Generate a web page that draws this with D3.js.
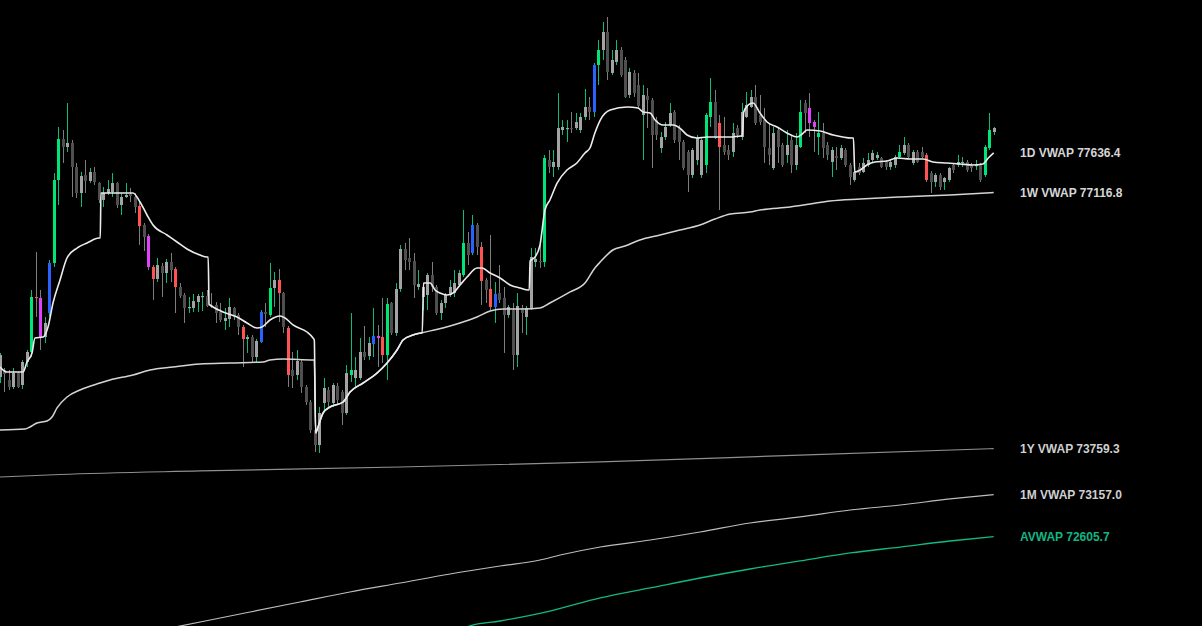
<!DOCTYPE html>
<html><head><meta charset="utf-8">
<script src="https://cdn.jsdelivr.net/npm/d3@7"></script>
<style>html,body{margin:0;padding:0;background:#000;overflow:hidden}</style>
</head><body>
<svg id="chart" width="1202" height="626"></svg>
<script>
// ---- Candle data (hourly OHLC) ----
const candleOpen = [74698,74790,74659,74567,74750,74593,74895,75026,75747,75734,75222,75537,76193,77281,77818,77713,77766,77451,77110,77346,77268,77386,77241,77019,77110,77123,77241,76953,77058,77097,77058,76940,76691,76546,76140,75983,76153,76061,76206,76114,75878,75773,75603,75603,75681,75747,75760,75642,75642,75550,75432,75458,75603,75511,75354,75196,75222,74960,75157,75550,75511,75865,75970,75799,75341,74790,74724,74895,74567,74370,74003,73806,74357,74528,74357,74580,74501,74226,74724,74685,74685,75026,74973,75131,75236,75222,74986,75668,75275,75852,76376,76258,76219,75878,75747,75773,76035,75878,75537,75668,75773,75799,75904,76035,76455,76324,76691,76403,75970,75852,75616,75799,75734,75511,75576,74986,75603,75485,75603,76206,76219,76206,77543,77451,77451,77936,77949,77962,77962,77936,78107,78238,78172,78788,78985,79221,78684,78828,78985,78854,78395,78684,78526,78133,78382,78330,78067,77700,77844,78002,78172,77962,77779,77648,77346,77543,77346,77477,78107,78303,78028,77740,77674,77648,77962,77844,78107,78238,78369,78133,78067,77700,77438,77936,77740,77609,77805,77477,77713,78290,78225,78041,77844,77897,77740,77517,77595,77569,77674,77477,77281,77451,77386,77477,77543,77569,77569,77517,77451,77477,77582,77635,77740,77504,77648,77648,77609,77372,77254,77346,77254,77281,77477,77477,77504,77517,77477,77464,77477,77346,77700,77910];
const candleHigh = [75013,74816,74790,74816,74763,74921,75052,75839,76337,75839,75485,76232,77372,77976,77936,78290,77805,77504,77386,77543,77438,77451,77254,77189,77281,77372,77254,77110,77241,77176,77110,76992,76717,76573,76166,76258,76193,76245,76324,76140,75930,75799,75747,75786,75786,75813,75839,75799,75681,75668,75603,75734,75616,75537,75380,75249,75249,75196,75576,75668,76193,76075,76114,75813,75367,75026,75052,74921,74593,74397,74029,74305,74685,74567,74619,74619,74528,74855,75537,74960,75209,75367,75222,75603,75380,75734,75734,75681,75930,76429,76455,76520,76324,76101,75930,76061,76206,75904,75708,75799,75970,76101,76101,76887,76599,76822,76717,76468,75996,76560,75943,76166,75878,75642,75668,75799,75642,75629,76389,76389,76429,77609,77674,77674,78421,78067,78067,78172,78159,78159,78474,78369,78815,79116,79352,79418,78985,79116,79024,78893,78749,78723,78684,78526,78487,78356,78107,77910,78041,78290,78198,78002,77805,77674,77700,77871,77831,78159,78618,78461,78133,78107,77740,78028,78002,78290,78434,78461,78526,78395,78225,78028,77976,77976,77766,77936,77871,77897,78330,78330,78421,78067,78172,78028,77779,77713,77713,77740,77700,77504,77438,77504,77569,77635,77674,77648,77582,77543,77543,77609,77740,77844,77766,77674,77674,77713,77635,77399,77372,77372,77320,77451,77504,77609,77582,77543,77504,77543,77504,77740,78159,77976];
const candleLow = [74619,74501,74528,74541,74554,74541,74829,74960,75485,75052,75144,75485,76140,76953,77504,77648,77058,77045,76927,77110,77241,77215,76979,76927,77084,77058,76913,76822,77045,76992,76848,76429,76350,76101,75708,75943,75747,75930,75943,75537,75734,75406,75537,75550,75550,75563,75616,75603,75406,75419,75314,75354,75445,75249,74829,75013,74882,74895,75144,75354,75485,75616,75419,75275,74567,74554,74659,74488,74331,73964,73715,73702,74239,74305,74305,74331,74069,74200,74632,74567,74659,74921,74921,74960,74829,74882,74659,75249,75236,75813,76101,76101,75734,75839,75576,75576,75813,75511,75445,75603,75747,75747,75878,76009,76166,76297,76297,75642,75668,75576,75406,75668,75013,75472,74790,74829,75275,75249,75576,76140,76127,76140,77372,77320,77412,77871,77779,77897,77936,77897,78067,78067,78107,78526,78854,78592,78657,78788,78631,78356,78356,78369,78225,77543,77962,77438,77805,77635,77805,77976,77766,77543,77412,77123,77307,77477,77307,77372,77976,77818,76887,77609,77543,77582,77831,77805,78093,78225,78002,78002,77504,77477,77412,77504,77451,77504,77372,77412,77700,77897,77844,77648,77609,77569,77543,77320,77412,77543,77451,77215,77254,77346,77372,77451,77517,77543,77438,77412,77412,77438,77569,77609,77569,77477,77504,77569,77254,77110,77189,77150,77150,77254,77372,77451,77451,77386,77386,77412,77254,77320,77674,77871];
const candleClose = [74986,74737,74567,74750,74567,74895,75026,75747,75734,75222,75406,76193,77281,77818,77713,77766,77451,77110,77333,77268,77386,77254,77019,77110,77163,77241,76953,77058,77084,77071,76927,76678,76533,76140,75983,76166,76061,76206,76101,75878,75760,75603,75616,75694,75760,75760,75629,75616,75537,75445,75472,75616,75485,75354,75196,75222,74960,75170,75550,75524,75865,75970,75799,75354,74724,74711,74908,74567,74370,74003,73806,74226,74554,74370,74593,74397,74226,74750,74790,74790,75026,74960,75144,75236,75209,74986,75655,75275,75852,76376,76232,76206,75904,75917,75878,76035,75878,75537,75668,75773,75878,75930,76061,76455,76297,76691,76403,75957,75839,75616,75786,75708,75511,75616,74986,75629,75537,75603,76271,76245,76206,77569,77451,77517,77962,77976,77962,77949,78041,78107,78238,78172,78788,78985,79221,78697,78854,78985,78657,78369,78697,78421,78251,78395,78330,77871,77871,77844,77976,78159,77805,77779,77438,77346,77674,77831,77805,78133,78303,77831,77713,77648,77609,77897,77871,78172,78264,78369,78028,78041,77713,77609,77897,77713,77477,77740,77477,77740,78172,78159,78028,77976,77897,77700,77609,77674,77569,77700,77477,77320,77386,77372,77504,77543,77635,77609,77451,77451,77517,77582,77648,77740,77582,77648,77517,77582,77281,77254,77346,77189,77307,77438,77412,77517,77517,77412,77438,77477,77281,77713,77936,77962];
// high-volume highlighted candles
const greenIdx = [7,12,13,60,78,86,103,121,133,157,158,178,182,200,219,220];
const blueIdx = [11,58,83,105,110,132];
const magentaIdx = [9,33,84,180,181];
const redIdx = [8,31,34,39,54,62,64,85,107,109,160,206];

// ---- VWAP lines (bar index, price) ----
const vwap1dIdx = [0,1.56,5.12,6.0,7.12,7.78,9.56,10.68,11.79,13.35,14.9,17.13,19.35,22.02,22.3,22.45,25.58,29.58,31.14,32.7,34.03,37.14,39.37,41.59,44.48,46.04,46.3,46.5,47.38,49.6,52.71,54.94,57.16,58.27,60.05,62.28,63.39,65.17,68.28,69.62,69.9,70.2,70.73,71.84,73.4,76.29,77.85,80.74,83.85,86.08,88.3,89.64,91.86,93.64,93.9,94.2,95.64,96.75,97.86,99.42,100.76,102.31,103.87,106.1,107.21,108.99,111.21,113.43,115.66,117.44,117.7,117.9,119.0,120.1,121.2,122.3,123.9,126.1,128.3,130.1,131.2,132.3,133.5,135.7,139.5,141.9,143.0,144.6,145.7,147.5,149.7,151.2,152.8,155.0,157.3,159.5,162.4,164.8,165.1,165.4,166.4,167.5,169.0,170.6,172.8,175.0,177.3,178.4,179.5,182.4,185.3,189.5,189.8,190.1,191.3,192.8,194.6,197.3,199.5,202.4,205.3,207.5,210.6,213.5,216.4,218.6,219.8,221];
const vwap1dVal = [74829,74763,74763,74895,75013,75209,75222,75354,75668,75970,76258,76389,76455,76520,76520,77110,77110,77110,76992,76822,76691,76560,76468,76376,76297,76271,76271,75655,75616,75550,75485,75406,75341,75354,75445,75498,75472,75380,75288,75209,75183,73964,74043,74226,74305,74370,74501,74619,74750,74882,75052,75183,75249,75275,75275,75930,75930,75839,75799,75773,75799,75904,76009,76127,76127,76061,75996,75904,75865,75839,75839,76219,76271,76429,76887,77019,77241,77412,77504,77635,77700,77897,78067,78198,78238,78225,78172,78159,78067,78002,78002,77962,77871,77831,77844,77844,77844,77858,77858,78172,78264,78290,78159,78041,77976,77897,77844,77884,77936,77923,77871,77831,77831,77386,77412,77477,77517,77530,77569,77556,77556,77517,77504,77491,77477,77491,77569,77636.4];
const vwap1wIdx = [0,5.56,6.67,8.23,10.45,11.57,12.68,14.9,17.79,22.24,24.47,29.58,33.36,38.48,44.48,51.16,58.5,60.05,62.95,69.62,69.9,70.2,70.73,71.84,73.4,76.29,77.85,80.74,83.85,86.08,88.3,89.64,91.86,93.64,98.5,102.3,106.1,109.0,111.9,116.3,120.1,122.3,126.8,130.1,132.3,133.5,136.3,139.0,142.3,146.8,151.2,155.7,159.0,162.4,166.8,169.0,175.7,180.2,184.6,191.3,200.2,211.3,221];
const vwap1wVal = [74003,74016,74043,74095,74121,74174,74292,74436,74528,74619,74659,74724,74790,74829,74868,74882,74895,74921,74934,74921,74921,73964,74043,74226,74305,74370,74501,74619,74750,74882,75052,75183,75249,75275,75341,75406,75485,75563,75590,75590,75603,75668,75813,75930,76127,76206,76363,76416,76494,76560,76625,76691,76769,76835,76861,76887,76927,76966,77006,77032,77058,77084,77116.8];
const vwap1yIdx = [0,13.35,44.48,88.97,133.5,177.9,221];
const vwap1yVal = [73387,73420,73466,73518,73584,73675,73759.3];
const vwap1mIdx = [37.8,55.6,66.7,77.8,89.0,100.1,111.2,120.1,124.6,133.5,144.6,155.7,166.8,177.9,189.1,200.2,211.3,221];
const vwap1mVal = [71407,71617,71748,71879,71997,72115,72220,72299,72364,72469,72561,72666,72784,72863,72954,73020,73099,73157.0];
const avwapIdx = [103.4,104.5,111.2,122.3,133.5,144.6,155.7,166.8,177.9,189.1,200.2,211.3,221];
const avwapVal = [71407,71434,71499,71630,71801,71932,72063,72181,72286,72391,72469,72548,72605.7];

const labelNames = ["1D VWAP","1W VWAP","1Y VWAP","1M VWAP","AVWAP"];
const labelValues = [77636.4,77116.8,73759.3,73157.0,72605.7];

// ---- drawing ----
const W = 1202, H = 626;
const svg = d3.select("#chart");
svg.append("rect").attr("width",W).attr("height",H).attr("fill","#000");

const x = d3.scaleLinear().domain([0, candleOpen.length-1]).range([0, 993.7]);
const y = d3.scaleLinear().domain([71433.6, 79640.5]).range([H, 0]);

const tag = new Array(candleOpen.length).fill("");
greenIdx.forEach(i=>tag[i]="G");
blueIdx.forEach(i=>tag[i]="B");
magentaIdx.forEach(i=>tag[i]="M");
redIdx.forEach(i=>tag[i]="R");
const tagColor = {G:"#00e676",B:"#2962ff",M:"#e040fb",R:"#ff5252"};

const candles = candleOpen.map((o,i)=>({i,o,h:candleHigh[i],l:candleLow[i],c:candleClose[i],t:tag[i]}));

const g = svg.append("g");
const cg = g.selectAll("g.c").data(candles).join("g");
cg.append("line")
  .attr("x1",d=>Math.round(x(d.i))+0.5).attr("x2",d=>Math.round(x(d.i))+0.5)
  .attr("y1",d=>y(d.h)).attr("y2",d=>y(d.l))
  .attr("stroke",d=>d.c>=d.o?"#0db97c":"#7d7d7d").attr("stroke-width",1);
cg.append("rect")
  .attr("x",d=>Math.round(x(d.i))-1).attr("width",3)
  .attr("y",d=>y(Math.max(d.o,d.c)))
  .attr("height",d=>Math.max(1.2, Math.abs(y(d.o)-y(d.c))))
  .attr("fill",d=>d.t?tagColor[d.t]:(d.c>=d.o?"#a3a3a3":"#4f4f4f"));

function drawLine(idx, vals, color, width){
  const pts = idx.map((k,j)=>[k, vals[j]]);
  svg.append("path").datum(pts)
    .attr("fill","none").attr("stroke",color).attr("stroke-width",width)
    .attr("stroke-linejoin","round")
    .attr("d", d3.line().x(d=>x(d[0])).y(d=>y(d[1])).curve(d3.curveMonotoneX));
}
drawLine(vwap1yIdx, vwap1yVal, "#8f8f8f", 1.2);
drawLine(vwap1mIdx, vwap1mVal, "#bdbdbd", 1.2);
drawLine(avwapIdx, avwapVal, "#12b886", 1.3);
drawLine(vwap1wIdx, vwap1wVal, "#d4d4d4", 1.5);
drawLine(vwap1dIdx, vwap1dVal, "#ececec", 1.6);

const labelColors = ["#d6d6d6","#d6d6d6","#cfcfcf","#cfcfcf","#13b582"];
svg.selectAll("text.lbl").data(labelNames).join("text")
  .attr("class","lbl")
  .attr("x",1020)
  .attr("y",(d,i)=>y(labelValues[i]))
  .attr("dy","0.35em")
  .attr("fill",(d,i)=>labelColors[i])
  .attr("font-family","'Liberation Sans', Arial, sans-serif")
  .attr("font-weight","bold")
  .attr("font-size","12px")
  .text((d,i)=>d+" "+labelValues[i].toFixed(1));
</script>
</body></html>
